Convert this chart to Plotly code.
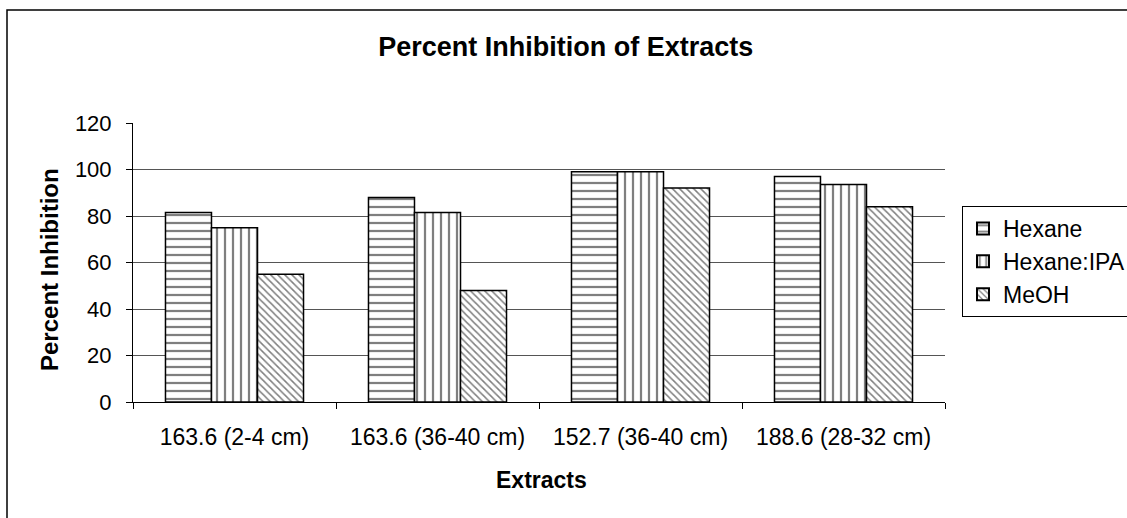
import plotly.graph_objects as go

categories = ["163.6 (2-4 cm)", "163.6 (36-40 cm)", "152.7 (36-40 cm)", "188.6 (28-32 cm)"]
hexane = [81.5, 88, 99, 97]
hexane_ipa = [75, 81.5, 99, 93.5]
meoh = [55, 48, 92, 84]
y_ticks = [0, 20, 40, 60, 80, 100, 120]

FONT = "Liberation Sans, Arial, sans-serif"

series = [
    ("Hexane", hexane, "-", 8, 0.28),
    ("Hexane:IPA", hexane_ipa, "|", 8, 0.28),
    ("MeOH", meoh, "\\", 5, 0.3),
]

fig = go.Figure()
for name, vals, shape, size, sol in series:
    fig.add_trace(go.Bar(
        name=name, x=categories, y=vals,
        marker=dict(
            color="white",
            line=dict(color="black", width=1.5),
            pattern=dict(shape=shape, fgcolor="black", bgcolor="white",
                         size=size, solidity=sol, fillmode="overlay"),
        ),
    ))

fig.update_layout(
    width=1127, height=518,
    margin=dict(l=133, r=182, t=123, b=116, autoexpand=False),
    paper_bgcolor="white", plot_bgcolor="white",
    font=dict(family=FONT, size=22, color="black"),
    barmode="group", bargap=0.32, bargroupgap=0,
    title=dict(text="<b>Percent Inhibition of Extracts</b>",
               font=dict(size=27, family=FONT, color="black"),
               x=0.502, xref="container", xanchor="center",
               y=1 - 47 / 518, yref="container", yanchor="middle"),
    legend=dict(x=(962 - 133) / 812, xanchor="left", y=(402 - 206) / 279, yanchor="top",
                bordercolor="black", borderwidth=1, bgcolor="white",
                font=dict(size=23, family=FONT), tracegroupgap=0,
                itemsizing="constant"),
    showlegend=True,
)

fig.update_xaxes(
    showline=True, linecolor="black", linewidth=1,
    ticks="outside", tickson="boundaries", ticklen=6, tickcolor="black",
    ticklabelstandoff=14, tickfont=dict(size=23),
    showgrid=False,
)
fig.update_yaxes(
    range=[0, 120], tickvals=y_ticks,
    showline=True, linecolor="black", linewidth=1,
    ticks="outside", ticklen=6, tickcolor="black",
    ticklabelstandoff=10, tickfont=dict(size=22),
    showgrid=True, gridcolor="#555555", gridwidth=1,
    zeroline=False,
)

fig.add_annotation(text="<b>Percent Inhibition</b>", textangle=-90,
                   xref="paper", yref="paper",
                   x=(49 - 133) / 812, y=(402 - 270) / 279,
                   xanchor="center", yanchor="middle", showarrow=False,
                   font=dict(size=24, family=FONT, color="black"))
fig.add_annotation(text="<b>Extracts</b>",
                   xref="paper", yref="paper",
                   x=(541 - 133) / 812, y=(402 - 480) / 279,
                   xanchor="center", yanchor="middle", showarrow=False,
                   font=dict(size=23, family=FONT, color="black"))

# outer chart-area border (extends past right/bottom edges of the image)
fig.add_shape(type="rect", xref="paper", yref="paper",
              x0=(7 - 133) / 812, x1=1.4, y0=-0.6, y1=(402 - 10) / 279,
              line=dict(color="black", width=1.5), fillcolor="rgba(0,0,0,0)",
              layer="below")

fig.write_html("out.html")
